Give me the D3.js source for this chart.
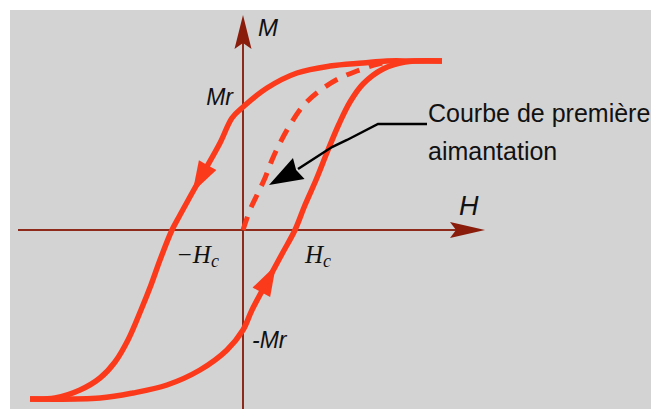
<!DOCTYPE html>
<html>
<head>
<meta charset="utf-8">
<script src="https://cdn.jsdelivr.net/npm/d3@7"></script>
<style>
  html, body { margin: 0; padding: 0; background: #ffffff; overflow: hidden; }
  svg { display: block; }
</style>
</head>
<body>
<svg id="chart" width="651" height="409"></svg>
<script>
// Hysteresis loop M(H), arbitrary units.
// Descending branch: from +saturation down to -saturation.
const descendingH = [9.95, 8.5, 7.2, 6.0, 4.35, 2.7, 1.2, 0, -0.55, -1.15, -1.9, -2.6, -3.15, -3.55, -4.15, -4.6, -5.1, -5.75, -6.4, -7.15, -8.15, -9.4, -10.65];
const descendingM = [8.45, 8.45, 8.45, 8.35, 8.2, 7.85, 7.1, 6.15, 5.6, 4.35, 3.0, 1.75, 0.75, 0, -1.5, -2.75, -4.0, -5.5, -6.6, -7.4, -8.0, -8.4, -8.45];

// Ascending branch: from -saturation back up to +saturation.
const ascendingH = [-10.65, -7.15, -5.5, -3.8, -2.15, -0.8, 0, 0.45, 1.25, 1.95, 2.6, 3.1, 3.65, 4.25, 4.8, 5.35, 6.0, 7.0, 8.1, 9.95];
const ascendingM = [-8.45, -8.4, -8.15, -7.75, -7.0, -6.0, -5.0, -4.0, -2.5, -1.2, 0, 1.25, 2.5, 4.0, 5.3, 6.4, 7.3, 8.05, 8.4, 8.45];

// First magnetization curve (dashed), from the demagnetized state.
const firstH = [0, 0.35, 0.7, 1.1, 1.45, 1.85, 2.35, 3.0, 3.75, 4.75, 5.7, 6.75, 7.5];
const firstM = [0, 1.0, 1.75, 2.6, 3.5, 4.35, 5.25, 6.2, 6.9, 7.55, 7.95, 8.3, 8.42];

// Characteristic points of the loop
const remanenceM = [6.15, -5.0];       // Mr, -Mr
const remanenceLabels = ["Mr", "-Mr"];
const coerciveH = [-3.55, 2.6];        // -Hc, Hc
const coerciveLabels = ["\u2212H", "H"];
const coerciveSub = "c";
const axisLabels = ["H", "M"];
const annotationLines = ["Courbe de premi\u00e8re", "aimantation"];

// Direction markers: M value at the tip of each travel arrow
const descendingArrowM = 1.9;
const ascendingArrowM = -1.75;

const W = 651, H = 409;
const svg = d3.select("#chart");

const x = d3.scaleLinear().domain([-10, 10]).range([43, 443]);
const y = d3.scaleLinear().domain([-10, 10]).range([430, 30]);

const red = "#fb3a1c";
const axisColor = "#8e2a1c";
const arrowColor = "#8a1c0c";

// panel background
svg.append("rect").attr("x", 10).attr("y", 10)
  .attr("width", W - 10).attr("height", H - 10).attr("fill", "#d3d3d3");

// axes
const hEnd = x(12.1), mEnd = y(10.75);
svg.append("line").attr("x1", x(-11.25)).attr("x2", hEnd - 28)
  .attr("y1", y(0)).attr("y2", y(0))
  .attr("stroke", axisColor).attr("stroke-width", 2);
svg.append("line").attr("x1", x(0)).attr("x2", x(0))
  .attr("y1", H + 5).attr("y2", mEnd + 28)
  .attr("stroke", axisColor).attr("stroke-width", 2);

function barbed(tx, ty, angle, len, half, notch) {
  const p = [[0, 0], [-len, -half], [-len + notch, 0], [-len, half]];
  const c = Math.cos(angle), s = Math.sin(angle);
  return "M" + p.map(([a, b]) => [tx + a * c - b * s, ty + a * s + b * c].join(",")).join("L") + "Z";
}
svg.append("path").attr("d", barbed(hEnd, y(0), 0, 35, 8, 6)).attr("fill", arrowColor);
svg.append("path").attr("d", barbed(x(0), mEnd, -Math.PI / 2, 34, 8.5, 6)).attr("fill", arrowColor);

// curves
const line = d3.line().x(d => x(d[0])).y(d => y(d[1])).curve(d3.curveCatmullRom.alpha(0.5));
const zip = (a, b) => a.map((v, i) => [v, b[i]]);

const descPath = svg.append("path").datum(zip(descendingH, descendingM))
  .attr("d", line).attr("fill", "none").attr("stroke", red).attr("stroke-width", 5.5);
const ascPath = svg.append("path").datum(zip(ascendingH, ascendingM))
  .attr("d", line).attr("fill", "none").attr("stroke", red).attr("stroke-width", 5.5);
svg.append("path").datum(zip(firstH, firstM))
  .attr("d", line).attr("fill", "none").attr("stroke", red).attr("stroke-width", 5)
  .attr("stroke-dasharray", "14,10");

// travel arrows on the loop
function arrowAt(pathSel, mValue) {
  const node = pathSel.node();
  const total = node.getTotalLength();
  const ty = y(mValue);
  let best = 0, bestD = Infinity;
  for (let l = 0; l <= total; l += 0.5) {
    const d = Math.abs(node.getPointAtLength(l).y - ty);
    if (d < bestD) { bestD = d; best = l; }
  }
  const p = node.getPointAtLength(best);
  const a = node.getPointAtLength(Math.max(0, best - 4));
  const b = node.getPointAtLength(Math.min(total, best + 4));
  const ang = Math.atan2(b.y - a.y, b.x - a.x);
  svg.append("path").attr("d", barbed(p.x, p.y, ang, 31, 10, 0)).attr("fill", red);
}
arrowAt(descPath, descendingArrowM);
arrowAt(ascPath, ascendingArrowM);

// labels
const sans = "'Liberation Sans', Arial, sans-serif";
const serif = "'Liberation Serif', 'Times New Roman', serif";

svg.append("text").attr("x", x(10.8)).attr("y", y(0) - 15)
  .attr("font-family", sans).attr("font-style", "italic").attr("font-size", 27)
  .attr("fill", "#111").text(axisLabels[0]);
svg.append("text").attr("x", x(0) + 15).attr("y", mEnd + 21)
  .attr("font-family", sans).attr("font-style", "italic").attr("font-size", 24)
  .attr("fill", "#111").text(axisLabels[1]);

svg.append("text").attr("x", x(0) - 10).attr("y", y(remanenceM[0]) - 2)
  .attr("text-anchor", "end")
  .attr("font-family", sans).attr("font-style", "italic").attr("font-size", 23)
  .attr("fill", "#111").text(remanenceLabels[0]);
svg.append("text").attr("x", x(0) + 9).attr("y", y(remanenceM[1]) + 18)
  .attr("font-family", sans).attr("font-style", "italic").attr("font-size", 23)
  .attr("fill", "#111").text(remanenceLabels[1]);

coerciveH.forEach((h, i) => {
  const t = svg.append("text")
    .attr("x", i === 0 ? x(h) + 4 : x(h) + 10).attr("y", y(0) + 33)
    .attr("font-family", serif).attr("font-style", "italic").attr("font-size", 25)
    .attr("fill", "#111");
  t.append("tspan").text(coerciveLabels[i]);
  t.append("tspan").attr("font-size", 18).attr("dy", 4).text(coerciveSub);
});

// annotation pointing at the first magnetization curve
const leaderH = [9.2, 6.75, 5.2, 4.45, 2.75];
const leaderM = [5.3, 5.3, 4.5, 4.15, 3.05];
svg.append("path").datum(zip(leaderH, leaderM))
  .attr("d", d3.line().x(d => x(d[0])).y(d => y(d[1])))
  .attr("fill", "none").attr("stroke", "#000").attr("stroke-width", 2.5);
const tipX = x(1.3), tipY = y(2.25);
const baseX = x(2.75), baseY = y(3.05);
svg.append("path")
  .attr("d", barbed(tipX, tipY, Math.atan2(tipY - baseY, tipX - baseX), 34, 12, 3))
  .attr("fill", "#000");

const ann = svg.append("text").attr("font-family", sans).attr("font-size", 25).attr("fill", "#111");
annotationLines.forEach((s, i) => {
  ann.append("tspan").attr("x", x(9.2) + 1).attr("y", y(5.3) - 2 + i * 38).text(s);
});
</script>
</body>
</html>
